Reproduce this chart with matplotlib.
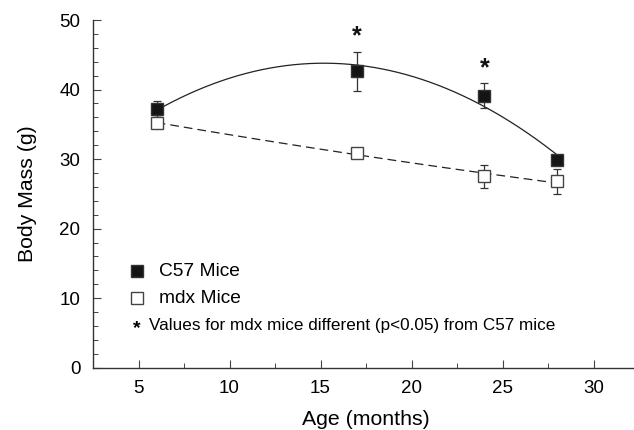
import numpy as np
import matplotlib
matplotlib.use('Agg')
import matplotlib.pyplot as plt
from matplotlib.ticker import MultipleLocator

plt.rcParams['font.family'] = ['Liberation Sans', 'DejaVu Sans']

# values
age = [6, 17, 24, 28]
c57_mass = [37.2, 42.6, 39.1, 29.8]
c57_err = [1.2, 2.8, 1.8, 0.6]
mdx_mass = [35.2, 30.9, 27.5, 26.8]
mdx_err = [0.8, 0.5, 1.6, 1.8]
sig_ages = [17, 24]
sig_y = [47.7, 43.1]

fig = plt.figure(figsize=(6.34, 4.30), dpi=100)
ax = fig.add_axes([93/634, 62.3/430, 546/634, 347.7/430])

# fitted curves
xs = np.linspace(age[0], age[-1], 200)
c57_fit = np.polyfit(age, c57_mass, 2)
mdx_fit = np.polyfit(age, mdx_mass, 2)
ax.plot(xs, np.polyval(c57_fit, xs), color='#222222', lw=0.9, zorder=2)
ax.plot(xs, np.polyval(mdx_fit, xs), color='#222222', lw=0.9,
        dashes=(7, 4), zorder=2)

ax.errorbar(age, c57_mass, yerr=c57_err, fmt='none', ecolor='#333333',
            elinewidth=0.9, capsize=3, capthick=0.9, zorder=3)
ax.errorbar(age, mdx_mass, yerr=mdx_err, fmt='none', ecolor='#333333',
            elinewidth=0.9, capsize=3, capthick=0.9, zorder=3)
ax.plot(age, c57_mass, 's', ms=9, mfc='#141414', mec='#333333', mew=1.0,
        ls='none', zorder=4)
ax.plot(age, mdx_mass, 's', ms=9, mfc='white', mec='#444444', mew=1.0,
        ls='none', zorder=4)

for xa, ya in zip(sig_ages, sig_y):
    ax.text(xa, ya, '*', ha='center', va='center', fontsize=18,
            fontweight='bold', color='#111111')

# legend drawn by hand
ax.plot([4.9], [13.9], 's', ms=9, mfc='#141414', mec='#333333',
        clip_on=False)
ax.plot([4.9], [10.0], 's', ms=9, mfc='white', mec='#444444',
        clip_on=False)
ax.text(6.15, 13.9, 'C57 Mice', va='center', fontsize=13.8)
ax.text(6.15, 10.0, 'mdx Mice', va='center', fontsize=13.8)
ax.text(4.9, 5.6, '*', ha='center', va='center', fontsize=14,
        fontweight='bold')
ax.text(5.6, 6.0, 'Values for mdx mice different (p<0.05) from C57 mice',
        va='center', fontsize=12.3)

ax.set_xlim(2.5, 32.5)
ax.set_ylim(0, 50)
ax.xaxis.set_major_locator(MultipleLocator(5))
ax.xaxis.set_minor_locator(MultipleLocator(2.5))
ax.yaxis.set_major_locator(MultipleLocator(10))
ax.yaxis.set_minor_locator(MultipleLocator(2))
ax.tick_params(which='both', direction='in', labelsize=13.5, color='#444444')
ax.tick_params(which='major', length=6, width=0.8, pad=9)
ax.tick_params(which='minor', length=3.5, width=0.7)

for s in ['top', 'right']:
    ax.spines[s].set_visible(False)
for s in ['left', 'bottom']:
    ax.spines[s].set_color('#333333')
    ax.spines[s].set_linewidth(1.0)

ax.set_xlabel('Age (months)', fontsize=15.3, labelpad=9)
ax.set_ylabel('Body Mass (g)', fontsize=15.3, labelpad=16)

fig.savefig('out.png', dpi=100)
